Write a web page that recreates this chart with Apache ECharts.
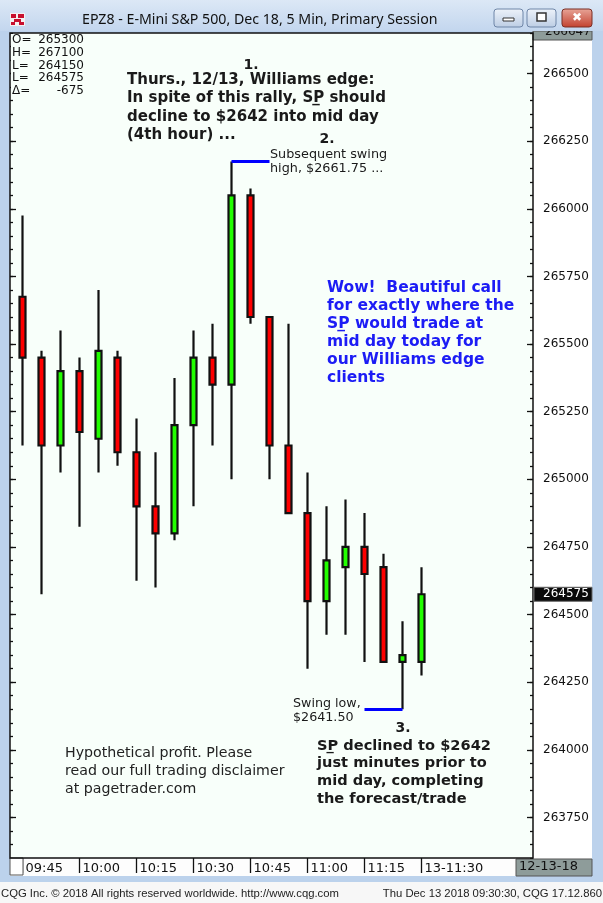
<!DOCTYPE html>
<html>
<head>
<meta charset="utf-8">
<script src="https://cdn.jsdelivr.net/npm/echarts@6/dist/echarts.min.js"></script>
<style>
html, body { margin: 0; padding: 0; background: #bcd2ec; }
#main { width: 603px; height: 903px; }
</style>
</head>
<body>
<div id="main"></div>
<script>
// EPZ8 5分钟K线 (12-13-18)
var times = ['09:45','09:50','09:55','10:00','10:05','10:10','10:15','10:20','10:25','10:30','10:35',
             '10:40','10:45','10:50','10:55','11:00','11:05','11:10','11:15','11:20','11:25','11:30'];
var opens  = [265675,265450,265125,265400,265150,265450,265100,264900,264800,265200,265450,
              265350,266050,265600,265125,264875,264550,264675,264750,264675,264325,264325];
var closes = [265450,265125,265400,265175,265475,265100,264900,264800,265200,265450,265350,
              266050,265600,265125,264875,264550,264700,264750,264650,264325,264350,264575];
var lows   = [265125,264575,265025,264825,265025,265050,264625,264600,264775,264900,265125,
              265000,265575,265000,264875,264300,264425,264425,264325,264325,264150,264275];
var highs  = [265975,265475,265550,265450,265700,265475,265225,265100,265375,265550,265575,
              266175,266075,265600,265575,265025,264900,264925,264875,264725,264475,264675];

// 坐标轴刻度
var timeLabels  = ['09:45','10:00','10:15','10:30','10:45','11:00','11:15','13-11:30'];
var priceLabels = [263750,264000,264250,264500,264750,265000,265250,265500,265750,266000,266250,266500];
var yMin = 263600, yMax = 266650;

// 左上角 OHLC 信息
var infoNames  = ['O=','H=','L=','L=','\u0394='];
var infoValues = ['265300','267100','264150','264575','-675'];

var swingHigh = highs[11];
var swingLow = lows[20];
var lastPrice = closes[closes.length - 1];

var kData = times.map(function (t, i) {
    return [opens[i], closes[i], lows[i], highs[i]];
});

var myChart = echarts.init(document.getElementById('main'));

function tickAxis(pos, off, len, major) {
    var ax = {
        type: 'value', position: pos, offset: off, min: yMin, max: yMax,
        axisLine: { show: false },
        splitLine: { show: false },
        axisTick: { show: true, inside: true, length: len, lineStyle: { color: '#111', width: 1.3 } },
        axisLabel: { show: false }
    };
    if (major) {
        ax.axisTick.customValues = priceLabels;
    } else {
        ax.interval = 50;
    }
    return ax;
}

var yAxes = [
    tickAxis('right', 102, 3, false),
    tickAxis('right', 102, 6, true),
    tickAxis('left', 3, 3, false),
    tickAxis('left', 3, 6, true)
];
yAxes[1].axisLabel = {
    show: true, customValues: priceLabels, margin: 10,
    color: '#111', fontFamily: 'DejaVu Sans', fontSize: 12,
    formatter: function (v) { return String(v); }
};

var option = {
    backgroundColor: '#bcd2ec',
    animation: false,
    grid: { left: 13, right: 172, top: 33, bottom: 45 },
    xAxis: {
        type: 'category',
        data: times,
        axisLine: { show: false },
        axisTick: { show: true, interval: 2, alignWithLabel: true, length: 15, lineStyle: { color: '#111', width: 1.3 } },
        axisLabel: {
            interval: 2, align: 'left', margin: 4, padding: [0, 0, 0, 3],
            color: '#111', fontFamily: 'DejaVu Sans', fontSize: 13,
            formatter: function (v, i) { return timeLabels[Math.round(i / 3)]; }
        },
        splitLine: { show: false }
    },
    yAxis: yAxes,
    series: [{
        type: 'candlestick',
        data: kData,
        barWidth: 7,
        itemStyle: {
            color: '#22ff00', color0: '#ff0000',
            borderColor: '#111', borderColor0: '#111', borderWidth: 2.2
        },
        markLine: {
            silent: true, symbol: ['none', 'none'], animation: false,
            label: { show: false },
            lineStyle: { color: '#0000ff', width: 3, type: 'solid' },
            data: [
                [{ coord: [times[11], swingHigh] }, { coord: [times[13], swingHigh] }],
                [{ coord: [times[18], swingLow] }, { coord: [times[20], swingLow] }]
            ]
        }
    }]
};
myChart.setOption(option);

// 最新价位置
var lastY = myChart.convertToPixel({ yAxisIndex: 0 }, lastPrice);

var bold = 'bold 15px "DejaVu Sans"';
var dark = '#1a1a1a';
var g = [
    // 背景
    { type: 'rect', z: -1, shape: { x: 10, y: 33, width: 523, height: 825 }, style: { fill: '#f8fffa' } },
    { type: 'rect', z: -1, shape: { x: 533, y: 33, width: 59, height: 843 }, style: { fill: '#ffffff' } },
    { type: 'rect', z: -1, shape: { x: 10, y: 858, width: 582, height: 18 }, style: { fill: '#fdfdfd' } },
    { type: 'rect', z: -1, shape: { x: 0, y: 882, width: 603, height: 21 }, style: { fill: '#f7f7f7' } },
    // 顶部灰框
    { type: 'rect', z: 5, shape: { x: 533, y: 31, width: 59, height: 9 }, style: { fill: '#8e9c9a', stroke: '#555', lineWidth: 1 } },
    { type: 'text', z: 6, style: { x: 545, y: 32, text: '266647', font: '12px "DejaVu Sans"', fill: '#111', verticalAlign: 'middle' } },
    // 标题栏
    { type: 'rect', z: 10, shape: { x: 0, y: 0, width: 603, height: 31 },
      style: { fill: new echarts.graphic.LinearGradient(0, 0, 0, 1, [{ offset: 0, color: '#dce8f6' }, { offset: 1, color: '#c3d6ee' }]) } },
    { type: 'text', z: 11, style: { x: 82, y: 20, text: 'EPZ8 - E-Mini S&P 500, Dec 18, 5 Min, Primary Session',
      font: '14.2px "Noto Sans"', fill: '#111', verticalAlign: 'middle' } },
    { type: 'rect', z: 11, shape: { x: 10, y: 13, width: 15, height: 13 }, style: { fill: '#f4f0f0' } },
    { type: 'rect', z: 12, shape: { x: 11, y: 14, width: 5, height: 4 }, style: { fill: '#c8102e' } },
    { type: 'rect', z: 12, shape: { x: 18, y: 14, width: 6, height: 4 }, style: { fill: '#c8102e' } },
    { type: 'rect', z: 12, shape: { x: 14, y: 19, width: 7, height: 3 }, style: { fill: '#c8102e' } },
    { type: 'rect', z: 12, shape: { x: 11, y: 22, width: 4, height: 3 }, style: { fill: '#c8102e' } },
    { type: 'rect', z: 12, shape: { x: 19, y: 22, width: 5, height: 3 }, style: { fill: '#c8102e' } },
    // 窗口按钮
    { type: 'rect', z: 11, shape: { x: 494, y: 9, width: 29, height: 18, r: 3 },
      style: { fill: new echarts.graphic.LinearGradient(0, 0, 0, 1, [{ offset: 0, color: '#eef3fa' }, { offset: 1, color: '#bccde4' }]), stroke: '#6f86a8' } },
    { type: 'rect', z: 12, shape: { x: 503, y: 18, width: 11, height: 3 }, style: { fill: '#fff', stroke: '#333', lineWidth: 1 } },
    { type: 'rect', z: 11, shape: { x: 527, y: 9, width: 29, height: 18, r: 3 },
      style: { fill: new echarts.graphic.LinearGradient(0, 0, 0, 1, [{ offset: 0, color: '#eef3fa' }, { offset: 1, color: '#bccde4' }]), stroke: '#6f86a8' } },
    { type: 'rect', z: 12, shape: { x: 537, y: 13, width: 9, height: 8 }, style: { fill: '#fff', stroke: '#333', lineWidth: 1.5 } },
    { type: 'rect', z: 11, shape: { x: 562, y: 9, width: 30, height: 18, r: 3 },
      style: { fill: new echarts.graphic.LinearGradient(0, 0, 0, 1, [{ offset: 0, color: '#e8a699' }, { offset: 1, color: '#c2402e' }]), stroke: '#7a2f25' } },
    { type: 'text', z: 12, style: { x: 577, y: 18, text: '\u2716', font: 'bold 12px "DejaVu Sans"', fill: '#fff', align: 'center', verticalAlign: 'middle' } },
    // 图框
    { type: 'rect', z: 20, shape: { x: 10, y: 33, width: 523, height: 825 }, style: { fill: null, stroke: '#111', lineWidth: 1.5 } },
    // 时间轴左侧小框、日期框
    { type: 'rect', z: 5, shape: { x: 10, y: 858, width: 13, height: 17 }, style: { fill: '#fff', stroke: '#555', lineWidth: 1 } },
    { type: 'rect', z: 5, shape: { x: 516, y: 859, width: 76, height: 17 }, style: { fill: '#8e9c9a', stroke: '#555', lineWidth: 1 } },
    { type: 'text', z: 6, style: { x: 519, y: 867, text: '12-13-18', font: '13px "DejaVu Sans"', fill: '#111', verticalAlign: 'middle' } },
    // 最新价
    { type: 'rect', z: 30, shape: { x: 534, y: lastY - 7, width: 58, height: 14 }, style: { fill: '#0a0a0a', stroke: '#666', lineWidth: 1 } },
    { type: 'text', z: 31, style: { x: 543, y: lastY, text: String(lastPrice), font: '12px "DejaVu Sans"', fill: '#fff', verticalAlign: 'middle' } },
    // OHLC 信息框
    { type: 'rect', z: 50, shape: { x: 11, y: 34, width: 74, height: 64 }, style: { fill: '#f8fffa' } },
    // 注释文字
    { type: 'text', z: 100, style: { x: 251, y: 65, text: '1.', font: 'bold 14px "DejaVu Sans"', fill: dark, align: 'center', verticalAlign: 'middle' } },
    { type: 'text', z: 100, style: { x: 127, y: 71, text: 'Thurs., 12/13, Williams edge:\nIn spite of this rally, SP\u0332 should\ndecline to $2642 into mid day\n(4th hour) ...',
      font: bold, lineHeight: 18.4, fill: dark, verticalAlign: 'top' } },
    { type: 'text', z: 100, style: { x: 327, y: 139, text: '2.', font: 'bold 14px "DejaVu Sans"', fill: dark, align: 'center', verticalAlign: 'middle' } },
    { type: 'text', z: 100, style: { x: 270, y: 148, text: 'Subsequent swing\nhigh, $2661.75 ...', font: '12.8px "DejaVu Sans"', lineHeight: 13.5, fill: dark, verticalAlign: 'top' } },
    { type: 'text', z: 100, style: { x: 327, y: 279, text: 'Wow!  Beautiful call\nfor exactly where the\nSP\u0332 would trade at\nmid day today for\nour Williams edge\nclients',
      font: 'bold 15.5px "DejaVu Sans"', lineHeight: 18, fill: '#1c1cf5', verticalAlign: 'top' } },
    { type: 'text', z: 100, style: { x: 293, y: 697, text: 'Swing low,\n$2641.50', font: '12.7px "DejaVu Sans"', lineHeight: 13.5, fill: dark, verticalAlign: 'top' } },
    { type: 'text', z: 100, style: { x: 403, y: 728, text: '3.', font: 'bold 14px "DejaVu Sans"', fill: dark, align: 'center', verticalAlign: 'middle' } },
    { type: 'text', z: 100, style: { x: 317, y: 737, text: 'SP\u0332 declined to $2642\njust minutes prior to\nmid day, completing\nthe forecast/trade',
      font: 'bold 14.6px "DejaVu Sans"', lineHeight: 17.8, fill: dark, verticalAlign: 'top' } },
    { type: 'text', z: 100, style: { x: 65, y: 744, text: 'Hypothetical profit. Please\nread our full trading disclaimer\nat pagetrader.com',
      font: '14.2px "DejaVu Sans"', lineHeight: 18.3, fill: '#222', verticalAlign: 'top' } },
    // 状态栏
    { type: 'text', z: 100, style: { x: 1, y: 894, text: 'CQG Inc. \u00a9 2018 All rights reserved worldwide. http://www.cqg.com',
      font: '11.3px "Liberation Sans"', fill: '#222', verticalAlign: 'middle' } },
    { type: 'text', z: 100, style: { x: 602, y: 894, text: 'Thu Dec 13 2018 09:30:30, CQG 17.12.860',
      font: '11.3px "Liberation Sans"', fill: '#222', align: 'right', verticalAlign: 'middle' } }
];

infoNames.forEach(function (n, i) {
    var y = 40 + i * 12.7;
    g.push({ type: 'text', z: 60, style: { x: 12, y: y, text: n, font: '12px "DejaVu Sans"', fill: '#111', verticalAlign: 'middle' } });
    g.push({ type: 'text', z: 60, style: { x: 84, y: y, text: infoValues[i], font: '12px "DejaVu Sans"', fill: '#111', align: 'right', verticalAlign: 'middle' } });
});

myChart.setOption({ graphic: { elements: g } });
</script>
</body>
</html>
